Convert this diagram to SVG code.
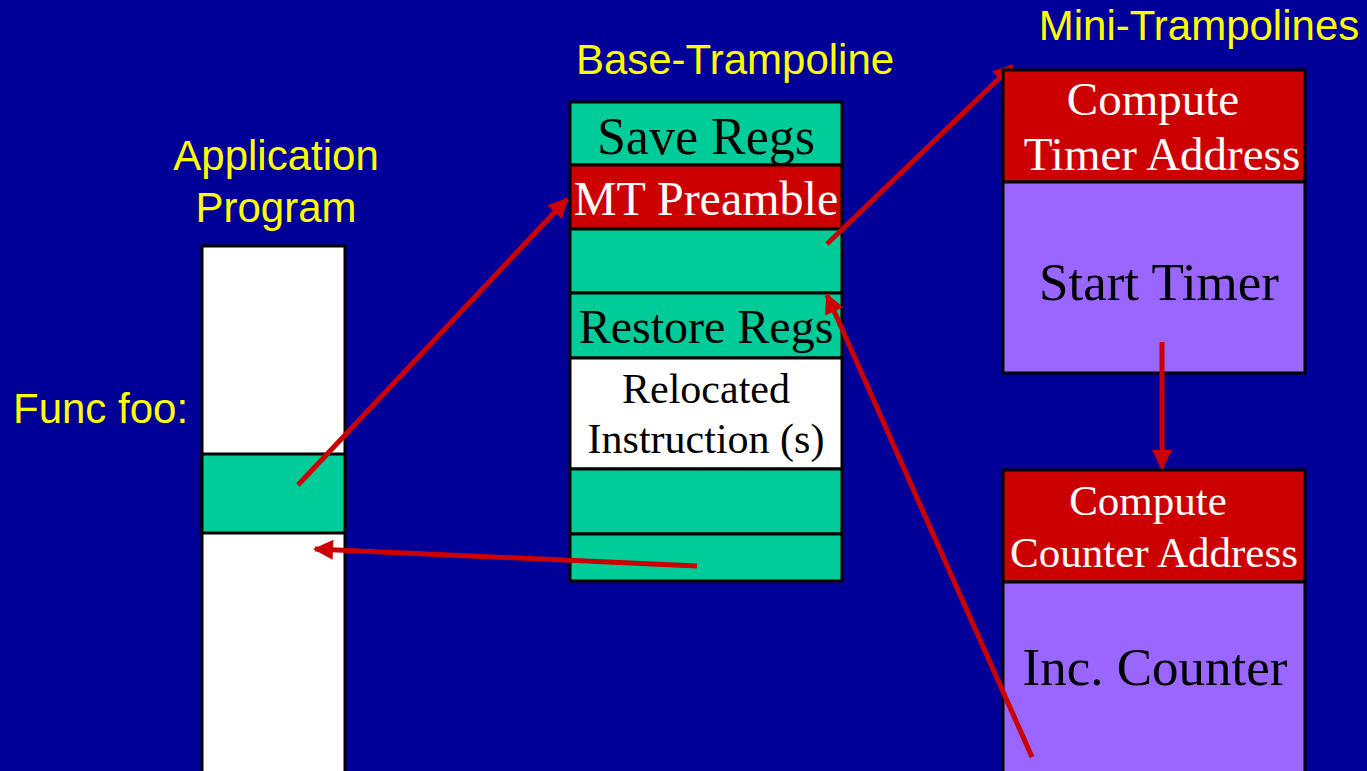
<svg xmlns="http://www.w3.org/2000/svg" width="1367" height="771" viewBox="0 0 1367 771">
  <style>
    .title { font-family: "Liberation Sans", Arial, sans-serif; font-size: 42px; fill: #FFFF00; }
    .cell { stroke: #000; stroke-width: 3; }
    .green { fill: #00CC99; }
    .red { fill: #CC0000; }
    .white { fill: #FFFFFF; }
    .purple { fill: #9966FF; }
    .lbl { font-family: "Liberation Serif", "Times New Roman", serif; text-anchor: middle; fill: #000; }
    .lbl-w { font-family: "Liberation Serif", "Times New Roman", serif; text-anchor: middle; fill: #FFFFFF; }
    .conn { stroke: #CC0000; stroke-width: 5; fill: none; marker-end: url(#head); }
  </style>
  <defs>
    <marker id="head" viewBox="0 0 10 10" refX="9" refY="5" markerWidth="4.2" markerHeight="4" orient="auto" markerUnits="strokeWidth">
      <path d="M0,0 L10,5 L0,10 Z" fill="#CC0000"/>
    </marker>
  </defs>

  <rect x="0" y="0" width="1367" height="771" fill="#000099"/>

  <!-- Application program -->
  <g id="app-program">
    <text class="title" x="276" y="170" text-anchor="middle">Application</text>
    <text class="title" x="276" y="222" text-anchor="middle">Program</text>
    <text class="title" x="13" y="423">Func foo:</text>
    <rect class="cell white" x="202" y="246" width="143" height="540"/>
    <rect class="cell green" x="202" y="454" width="143" height="79"/>
  </g>

  <!-- Base trampoline -->
  <g id="base-trampoline">
    <text class="title" x="735" y="74" text-anchor="middle">Base-Trampoline</text>
    <rect class="cell green" x="570" y="102" width="272" height="63"/>
    <text class="lbl" x="706" y="154" font-size="52">Save Regs</text>
    <rect class="cell red" x="570" y="165" width="272" height="64"/>
    <text class="lbl-w" x="706" y="215" font-size="48">MT Preamble</text>
    <rect class="cell green" x="570" y="229" width="272" height="64"/>
    <rect class="cell green" x="570" y="293" width="272" height="65"/>
    <text class="lbl" x="706" y="343" font-size="48">Restore Regs</text>
    <rect class="cell white" x="570" y="358" width="272" height="111"/>
    <text class="lbl" x="706" y="403" font-size="42">Relocated</text>
    <text class="lbl" x="706" y="453" font-size="42">Instruction (s)</text>
    <rect class="cell green" x="570" y="469" width="272" height="65"/>
    <rect class="cell green" x="570" y="534" width="272" height="47"/>
  </g>

  <!-- Connector into the timer mini-trampoline; its head sits under the box edge -->
  <g id="connector-under">
    <line class="conn" x1="827" y1="244" x2="1012" y2="66"/>
  </g>

  <!-- Mini trampolines -->
  <g id="mini-timer">
    <text class="title" x="1199" y="40" text-anchor="middle">Mini-Trampolines</text>
    <rect class="cell red" x="1003" y="70" width="302" height="112"/>
    <text class="lbl-w" x="1153" y="115" font-size="47">Compute</text>
    <text class="lbl-w" x="1162" y="170" font-size="47">Timer Address</text>
    <rect class="cell purple" x="1003" y="182" width="302" height="191"/>
    <text class="lbl" x="1159" y="300" font-size="53">Start Timer</text>
  </g>

  <g id="mini-counter">
    <rect class="cell red" x="1003" y="470" width="302" height="112"/>
    <text class="lbl-w" x="1148" y="515" font-size="43">Compute</text>
    <text class="lbl-w" x="1154" y="567" font-size="43">Counter Address</text>
    <rect class="cell purple" x="1003" y="582" width="302" height="210"/>
    <text class="lbl" x="1155" y="685" font-size="53">Inc. Counter</text>
  </g>

  <!-- Control-flow connectors -->
  <g id="connectors">
    <line class="conn" x1="298" y1="485" x2="567" y2="199"/>
    <line class="conn" x1="1162" y1="342" x2="1162" y2="468"/>
    <line class="conn" x1="1032" y1="757" x2="827" y2="295"/>
    <line class="conn" x1="697" y1="566" x2="315" y2="549"/>
  </g>
</svg>
